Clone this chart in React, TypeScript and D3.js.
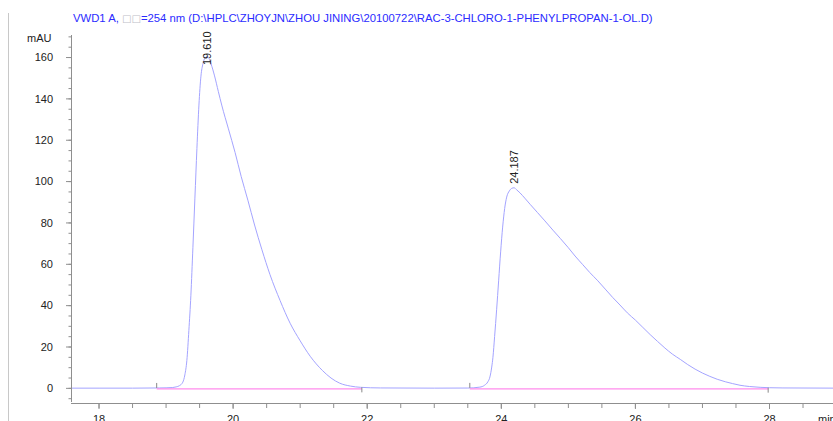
import React from "react";
import * as d3 from "d3";

const W = 833;
const H = 421;

// Chromatogram samples (time in min, signal in mAU)
const times = [
  17.5, 18.0, 18.5, 18.9, 19.0, 19.1, 19.15, 19.2, 19.25, 19.28, 19.31, 19.34, 19.37, 19.4, 19.43,
  19.46, 19.49, 19.52, 19.55, 19.58, 19.61, 19.64, 19.67, 19.72, 19.78, 19.83, 19.93, 20.03, 20.12,
  20.22, 20.32, 20.43, 20.55, 20.7, 20.85, 21.0, 21.15, 21.33, 21.46, 21.59, 21.75, 21.9, 22.2, 23.0,
  23.5, 23.68, 23.75, 23.8, 23.83, 23.857, 23.875, 23.9, 23.93, 23.96, 23.99, 24.02, 24.05, 24.08,
  24.12, 24.16, 24.19, 24.23, 24.28, 24.35, 24.43, 24.54, 24.65, 24.77, 24.88, 25.0, 25.1, 25.21,
  25.32, 25.44, 25.55, 25.66, 25.77, 25.88, 26.0, 26.11, 26.22, 26.33, 26.44, 26.55, 26.67, 26.78,
  26.89, 27.0, 27.11, 27.22, 27.34, 27.45, 27.56, 27.7, 27.86, 28.0, 28.2, 29.0,
];
const signal = [
  0.1, 0.1, 0.1, 0.2, 0.25, 0.4, 0.7, 1.3, 3.0, 6.5, 13.5, 28, 45, 68, 92,
  116, 137, 151, 157, 159.8, 160.5, 159.5, 157, 151.5, 143.5, 137, 125.5, 114, 102.5,
  91, 79, 67, 55, 42.5, 31.5, 23, 15.5, 8.7, 5, 2.5, 1.1, 0.5, 0.2, 0.1,
  0.15, 0.6, 1.5, 3.2, 5.5, 10.3, 15, 25, 38, 52, 66, 78, 87, 92.5,
  95.5, 96.8, 97, 96, 94.5, 92, 89, 85, 81, 76.5, 72.5, 68, 64, 60,
  56, 52, 48, 44, 40.3, 36.5, 33, 29.5, 26, 22.7, 19.5, 16.6, 14, 11.5,
  9.3, 7.4, 5.8, 4.4, 3.2, 2.3, 1.5, 0.9, 0.5, 0.3, 0.2, 0.1,
];

// Peaks
const peakTimes = [19.61, 24.187];
const peakLabels = ["19.610", "24.187"];
const peakStarts = [18.86, 23.53];
const peakEnds = [21.92, 27.98];

// Axis ticks
const xMajorTicks = [18, 20, 22, 24, 26, 28];
const yMajorTicks = [0, 20, 40, 60, 80, 100, 120, 140, 160];

const titleStart = "VWD1 A, ";
const titleBoxes = "\u25A1\u25A1";
const titleEnd = "=254 nm (D:\\HPLC\\ZHOYJN\\ZHOU JINING\\20100722\\RAC-3-CHLORO-1-PHENYLPROPAN-1-OL.D)";

const FONT = "'Liberation Sans', Arial, sans-serif";

export default function App() {
  const x = d3.scaleLinear().domain([17.582, 28.947]).range([71, 833]);
  const y = d3.scaleLinear().domain([-6.6, 170.9]).range([402, 35]);

  const pts: [number, number][] = times.map((t, i) => [t, signal[i]]);
  const line = d3
    .line<[number, number]>()
    .x((d) => x(d[0]))
    .y((d) => y(d[1]))
    .curve(d3.curveMonotoneX);

  const xMinor = d3.range(18, 29.01, 0.5).filter((v) => x(v) <= W);
  const yMinor = d3.range(-5, 171, 5);

  const interp = d3.scaleLinear().domain(times).range(signal);

  const axisColor = "#8f8f8f";
  const axisY = 403;

  return (
    <svg
      width={W}
      height={H}
      style={{ position: "fixed", left: 0, top: 0, background: "#fff" }}
      fontFamily={FONT}
    >
      <rect x={0} y={0} width={W} height={H} fill="#fff" />
      {/* left border line */}
      <line x1={8.5} x2={8.5} y1={13} y2={H} stroke="#c8c8c8" strokeWidth={1} />

      {/* title */}
      <text x={73} y={21.5} fontSize={11.3} fill="#2b2bff">
        {titleStart}
        <tspan fill="#c0c0c8" fontFamily="'DejaVu Sans', sans-serif" fontSize={10}>
          {titleBoxes}
        </tspan>
        {titleEnd}
      </text>

      {/* y axis */}
      <line x1={71.5} x2={71.5} y1={35} y2={402} stroke={axisColor} strokeWidth={1} />
      {yMinor.map((v) => (
        <line key={"ym" + v} x1={68.5} x2={71.5} y1={y(v)} y2={y(v)} stroke={axisColor} />
      ))}
      {yMajorTicks.map((v) => (
        <g key={"yt" + v}>
          <line x1={66} x2={71.5} y1={y(v)} y2={y(v)} stroke={axisColor} />
          <text x={53} y={y(v) + 3.8} fontSize={11} textAnchor="end" fill="#222">
            {v}
          </text>
        </g>
      ))}
      <text x={51.5} y={41.5} fontSize={11} textAnchor="end" fill="#222">
        mAU
      </text>

      {/* x axis */}
      <line x1={71} x2={W} y1={axisY + 0.5} y2={axisY + 0.5} stroke={axisColor} />
      {xMinor.map((v) => (
        <line key={"xm" + v} x1={x(v)} x2={x(v)} y1={axisY} y2={axisY + 5} stroke={axisColor} />
      ))}
      {xMajorTicks.map((v) => (
        <g key={"xt" + v}>
          <line x1={x(v)} x2={x(v)} y1={axisY} y2={axisY + 6} stroke={axisColor} />
          <text x={x(v)} y={423} fontSize={11} textAnchor="middle" fill="#222">
            {v}
          </text>
        </g>
      ))}
      <text x={818} y={423} fontSize={11} fill="#222">
        min
      </text>

      {/* signal */}
      <g>
        <defs>
          <clipPath id="plotClip">
            <rect x={72} y={0} width={W - 72} height={axisY} />
          </clipPath>
        </defs>
        <path d={line(pts) || ""} fill="none" stroke="#a4a4ff" strokeWidth={1} clipPath="url(#plotClip)" />
      </g>

      {/* integration baselines */}
      {peakStarts.map((s, i) => (
        <g key={"bl" + i}>
          <line
            x1={x(s)}
            x2={x(peakEnds[i])}
            y1={y(0) + 0.5}
            y2={y(0) + 0.5}
            stroke="#ff8cec"
            strokeWidth={1.2}
          />
          <line x1={x(s)} x2={x(s)} y1={y(interp(s)) - 5} y2={y(interp(s))} stroke="#888" />
          <line
            x1={x(peakEnds[i])}
            x2={x(peakEnds[i])}
            y1={y(interp(peakEnds[i]))}
            y2={y(interp(peakEnds[i])) + 5}
            stroke="#888"
          />
        </g>
      ))}

      {/* peak labels */}
      {peakTimes.map((t, i) => {
        const apexY = y(d3.max(signal.filter((_, j) => Math.abs(times[j] - t) < 0.3)) || 0);
        const bottom = Math.max(apexY - 4, 65);
        const px = x(t) + 4;
        return (
          <text
            key={"pl" + i}
            x={px}
            y={bottom}
            fontSize={11}
            fill="#222"
            transform={`rotate(-90 ${px} ${bottom})`}
          >
            {peakLabels[i]}
          </text>
        );
      })}
    </svg>
  );
}
